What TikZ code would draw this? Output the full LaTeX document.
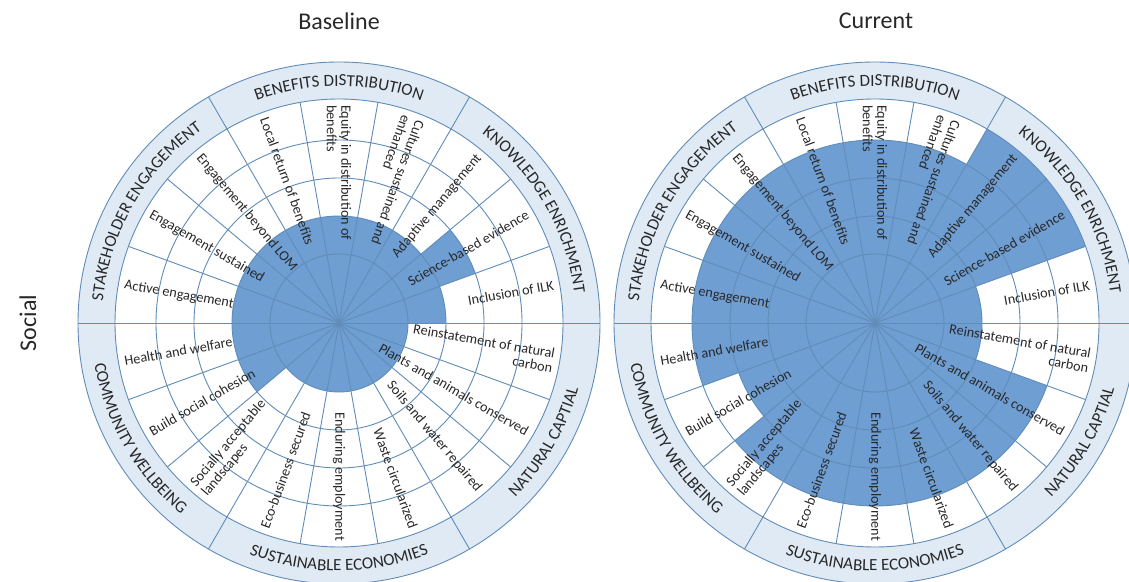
\documentclass[tikz,border=0pt]{standalone}
\usepackage{fontspec}
\setmainfont{Carlito}
\usetikzlibrary{decorations.text}
\definecolor{ringfill}{RGB}{224,234,245}
\definecolor{wline}{RGB}{96,140,184}
\definecolor{wfill}{RGB}{111,158,211}
\definecolor{txt}{RGB}{40,40,40}
\newcommand{\catfnt}{\fontsize{17}{17}\selectfont}
\tikzset{
 wheelstroke/.style={draw=wline, line width=0.9pt},
 lbl/.style={font=\fontsize{14.2}{14.6}\selectfont, text=txt, inner sep=0pt},
 lout/.style={lbl, anchor=east, align=right},
 lin/.style={lbl, anchor=west, align=left},
 ttl/.style={font=\fontsize{24}{24}\selectfont, text=txt},
}
\newcommand{\cattop}[3]{%
 \path[decorate, decoration={text along path, text align=center, text={|\catfnt\color{txt}|#3}}]
   ([shift={(#2+30:237pt)}]#1) arc[start angle=#2+30, end angle=#2-30, radius=237pt];}
\newcommand{\catbot}[3]{%
 \path[decorate, decoration={text along path, text align=center, text={|\catfnt\color{txt}|#3}}]
   ([shift={(#2-30:248pt)}]#1) arc[start angle=#2-30, end angle=#2+30, radius=248pt];}
\newcommand{\drawwheel}[2]{%
 \fill[ringfill,even odd rule] (#1) circle[radius=261pt] (#1) circle[radius=224pt];
 \foreach \lev [count=\i from 0] in {#2} {
   \pgfmathsetmacro\rr{{69,107,145,183,224}[\lev-1]}
   \pgfmathsetmacro\aa{20*\i}
   \fill[wfill] (#1) -- ([shift={(\aa:\rr pt)}]#1) arc[start angle=\aa, delta angle=20, radius=\rr pt] -- cycle;
 }
 \foreach \r in {69,107,145,183,224,261} \draw[wheelstroke] (#1) circle[radius=\r pt];
 \foreach \k in {0,...,17} \draw[wheelstroke] (#1) -- ([shift={(20*\k:224pt)}]#1);
 \foreach \k in {0,...,5} \draw[wheelstroke] ([shift={(60*\k:224pt)}]#1) -- ([shift={(60*\k:261pt)}]#1);
 \fill[wline] (#1) circle[radius=2pt];
 \foreach \a/\t [count=\n] in {10/{Inclusion of ILK}, 30/{Science-based evidence}, 50/{Adaptive management}, 270/{Enduring employment}, 290/{Waste circularized}, 310/{Soils and water repaired}, 330/{Plants and animals conserved}, 350/{Reinstatement of natural\\carbon}}
   \node[lout, rotate=\a] (#1-o\n) at ([shift={(\a:218pt)}]#1) {\t};
 \foreach \a/\t [count=\n] in {70/{Cultures sustained and\\enhanced}, 90/{Equity in distribution of\\benefits}, 110/{Local return of benefits}, 130/{Engagement beyond LOM}, 150/{Engagement sustained}, 170/{Active engagement}, 190/{Health and welfare}, 210/{Build social cohesion}, 230/{Socially acceptable\\landscapes}, 250/{Eco-business secured}}
   \node[lin, rotate=\a-180] (#1-i\n) at ([shift={(\a:218pt)}]#1) {\t};
 \cattop{#1}{90}{BENEFITS DISTRIBUTION}
 \cattop{#1}{30}{KNOWLEDGE ENRICHMENT}
 \cattop{#1}{150}{STAKEHOLDER ENGAGEMENT}
 \catbot{#1}{210}{COMMUNITY WELLBEING}
 \catbot{#1}{270}{SUSTAINABLE ECONOMIES}
 \catbot{#1}{330}{NATURAL CAPTIAL}
}
\begin{document}
\begin{tikzpicture}[x=1pt,y=1pt]
\useasboundingbox (0,0) rectangle (1129,581);
\fill[white] (0,0) rectangle (1129,581);
\coordinate (L) at (339,258);
\coordinate (R) at (875,258);
\drawwheel{L}{2,3,2,2,2,2,2,2,2,2,2,1,1,1,1,1,1,1}
\drawwheel{R}{2,5,5,4,4,4,4,4,4,4,3,4,4,4,4,4,4,2}
\node[ttl] (tb) at (339,560) {Baseline};
\node[ttl] (tc) at (876,560) {Current};
\node[ttl, rotate=90] (ts) at (28,258) {Social};
\end{tikzpicture}
\end{document}
